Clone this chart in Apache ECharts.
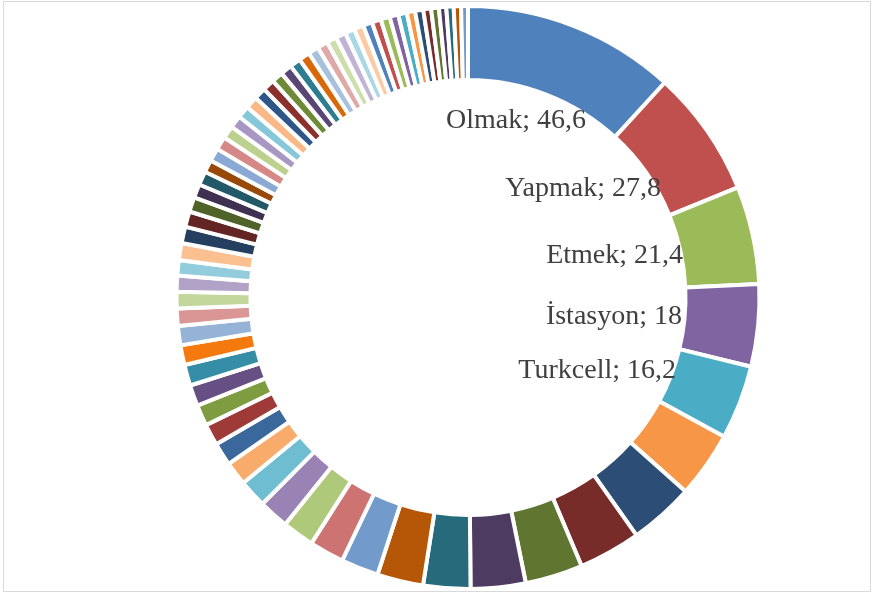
<!DOCTYPE html>
<html><head><meta charset="utf-8">
<script src="https://cdn.jsdelivr.net/npm/echarts@6/dist/echarts.min.js"></script>
<style>html,body{margin:0;padding:0;background:#fff}#c{width:875px;height:597px}</style>
</head><body><div id="c"></div>
<script>
// ---- data ----
const categories = ['Olmak', 'Yapmak', 'Etmek', 'İstasyon', 'Turkcell'];
for (let i = 6; i <= 67; i++) categories.push('Kelime ' + i);

const values = [
  46.6, 27.8, 21.4, 18, 16.2,
  14.5, 14.2, 13.6, 12.6, 12.0, 10.3, 10.1,
  8.2, 7.6, 7.0, 6.6, 6.1, 5.2,
  5.0, 4.7, 4.6, 4.6, 4.6, 4.3,
  4.2, 3.8, 3.6, 3.5, 3.4, 3.7,
  3.6, 3.4, 3.2, 3.0, 3.0, 2.7,
  2.9, 2.9, 2.8, 2.7, 2.7, 2.7,
  2.6, 2.6, 2.5, 2.5, 2.4, 2.4,
  2.3, 2.3, 2.2, 2.2, 2.1, 2.1,
  2.0, 2.0, 2.0, 1.9, 1.9, 1.8,
  1.8, 1.7, 1.7, 1.6, 1.6, 1.6, 1.5
];
const labeledCount = 5;

// ---- styles ----
const palette = [
  '#4F81BD','#C0504D','#9BBB59','#8064A2','#4BACC6','#F79646',
  '#2C4D75','#772C2A','#5F7530','#4D3B62','#276A7C','#B65708',
  '#729ACA','#CD7371','#AFC97A','#9983B5','#6FBDD1','#F9AB6B',
  '#3A679C','#9E3B38','#7E9C40','#664F83','#358EA6','#F47A10',
  '#95B3D7','#D99694','#C3D69B','#B2A2C7','#93CDDD','#FAC090',
  '#243F60','#632523','#4F6228','#3F3151','#215968','#984807',
  '#8AAAD5','#D58886','#BCD18E','#A797C2','#86C8DA','#FAB886',
  '#2F5689','#8A302D','#6E8A37','#5A4675','#2E7C91','#D8680A',
  '#A7C0DE','#DEA9A7','#CDDDAC','#C0B3D4','#A9D8E4','#FCCBA5',
  '#4F81BD','#C0504D','#9BBB59','#8064A2','#4BACC6','#F79646',
  '#2C4D75','#772C2A','#5F7530','#4D3B62','#276A7C','#B65708',
  '#729ACA'
];
const CX = 468, CY = 297.5, R_IN = 217.5, R_OUT = 291.5;
// label right-end / middle offsets from the donut centre (layout)
const labelAnchors = [[118, -177], [193, -109], [215, -42], [214, 19], [208, 73.5]];

const chart = echarts.init(document.getElementById('c'), null, { renderer: 'canvas' });
const fmt = v => String(v).replace('.', ',');

chart.setOption({
  animation: false,
  color: palette,
  graphic: [{
    type: 'rect', silent: true, z: -10,
    shape: { x: 3.5, y: 1.5, width: 867, height: 590 },
    style: { fill: 'none', stroke: '#D9D9D9', lineWidth: 1 }
  }],
  series: [{
    type: 'pie',
    center: [CX, CY],
    radius: [R_IN, R_OUT],
    startAngle: 90,
    clockwise: true,
    avoidLabelOverlap: false,
    emphasis: { disabled: true },
    itemStyle: { borderColor: '#ffffff', borderWidth: 4 },
    label: { show: false },
    labelLine: { show: false },
    data: categories.map((n, i) => ({
      name: n,
      value: values[i],
      label: i < labeledCount ? {
        show: true,
        position: 'inside',
        formatter: p => p.name + '; ' + fmt(p.value),
        fontFamily: '"Liberation Serif", "Times New Roman", serif',
        fontSize: 28,
        color: '#404040',
        textBorderWidth: 0
      } : { show: false }
    })),
    labelLayout: function (p) {
      const i = p.dataIndex;
      if (i >= labeledCount) return {};
      const a = labelAnchors[i];
      return { x: CX + a[0], y: CY + a[1], align: 'right', verticalAlign: 'middle' };
    }
  }]
});
</script>
</body></html>
